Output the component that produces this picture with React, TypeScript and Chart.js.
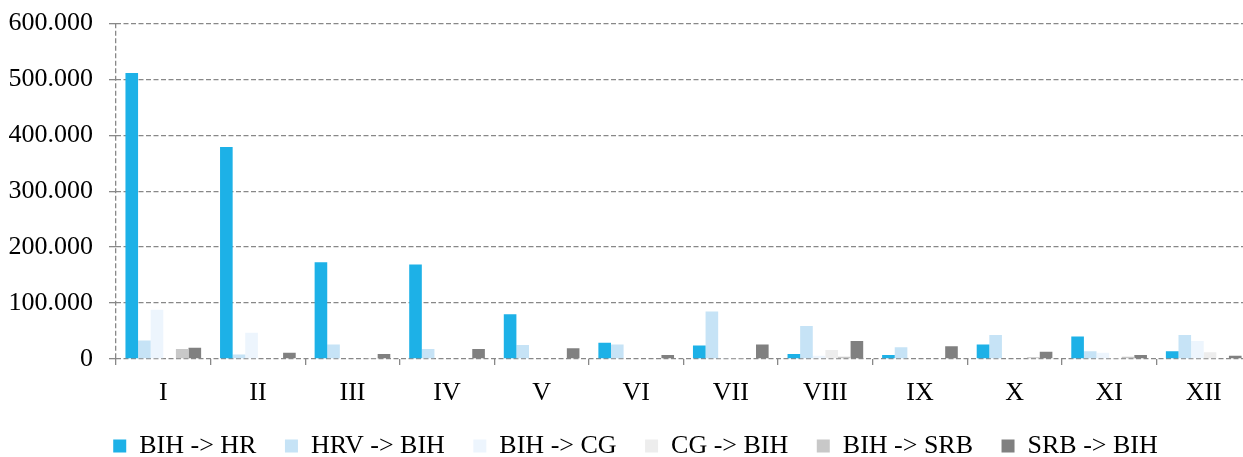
import React, { useEffect, useRef } from "react";
import { Chart, registerables } from "chart.js";

Chart.register(...registerables);

const months = ["I", "II", "III", "IV", "V", "VI", "VII", "VIII", "IX", "X", "XI", "XII"];

const bihToHr = [511000, 379000, 173000, 169000, 80000, 29000, 24000, 9000, 7000, 26000, 40000, 14000];
const hrvToBih = [33000, 8000, 26000, 18000, 25000, 26000, 85000, 59000, 21000, 43000, 14000, 43000];
const bihToCg = [88000, 47000, 0, 0, 0, 0, 1000, 6000, 0, 0, 11000, 32000];
const cgToBih = [0, 0, 0, 0, 0, 0, 2000, 16000, 0, 0, 1000, 12000];
const bihToSrb = [18000, 0, 2000, 0, 0, 0, 0, 4000, 0, 3000, 4000, 0];
const srbToBih = [20000, 11000, 9000, 18000, 19000, 7000, 26000, 32000, 23000, 13000, 7000, 6000];

const seriesLabels = ["BIH -> HR", "HRV -> BIH", "BIH -> CG", "CG -> BIH", "BIH -> SRB", "SRB -> BIH"];
const seriesColors = ["#1DB1E7", "#C6E3F6", "#EDF5FD", "#EDEDED", "#C8C8C8", "#808080"];

const FONT = "'Liberation Serif'";
const GRID = "#888888";

export default function App() {
  const ref = useRef<HTMLCanvasElement | null>(null);

  useEffect(() => {
    if (!ref.current) return;
    const data = [bihToHr, hrvToBih, bihToCg, cgToBih, bihToSrb, srbToBih];
    const chart = new Chart(ref.current, {
      type: "bar",
      data: {
        labels: months,
        datasets: data.map((d, i) => ({
          label: seriesLabels[i],
          data: d,
          backgroundColor: seriesColors[i],
          borderWidth: 0,
          categoryPercentage: 0.8,
          barPercentage: 1,
        })),
      },
      options: {
        animation: false,
        responsive: false,
        maintainAspectRatio: false,
        layout: { padding: { left: 20, right: 9, top: 23.3, bottom: 0 } },
        plugins: {
          tooltip: { enabled: false },
          legend: {
            position: "bottom",
            align: "center",
            labels: {
              color: "#000",
              font: { family: FONT, size: 26 },
              boxWidth: 13,
              boxHeight: 13,
              padding: 28.5,
            },
          },
        },
        scales: {
          x: {
            offset: true,
            afterFit: (s: any) => {
              s.height = 45.5;
            },
            grid: {
              offset: true,
              drawOnChartArea: true,
              drawTicks: true,
              tickLength: 6,
              lineWidth: 1.3,
              color: (ctx: any) => (ctx.index === 0 ? GRID : "rgba(0,0,0,0)"),
              tickColor: GRID,
            },
            border: { display: false, dash: [5, 2.5] },
            ticks: {
              color: "#000",
              font: { family: FONT, size: 26 },
              padding: 13,
              maxRotation: 0,
              autoSkip: false,
            },
          },
          y: {
            min: 0,
            max: 600000,
            afterFit: (s: any) => {
              s.width = 96;
              s.paddingTop = 0;
              s.paddingBottom = 0;
              s._computeLabelArea = () => undefined;
            },
            grid: {
              color: GRID,
              lineWidth: 1.3,
              tickLength: 7,
              tickColor: GRID,
            },
            border: { display: false, dash: [5, 2.5] },
            ticks: {
              stepSize: 100000,
              color: "#000",
              font: { family: FONT, size: 26 },
              padding: 16,
              callback: (v: any) => {
                const n = Number(v);
                if (n === 0) return "0";
                return Math.round(n / 1000) + ".000";
              },
            },
          },
        },
      },
    });
    return () => chart.destroy();
  }, []);

  return (
    <div
      style={{
        position: "fixed",
        left: 0,
        top: 0,
        width: 1243,
        height: 457,
        overflow: "hidden",
        background: "#fff",
      }}
    >
      <canvas ref={ref} width={1260} height={469} style={{ display: "block" }} />
    </div>
  );
}
